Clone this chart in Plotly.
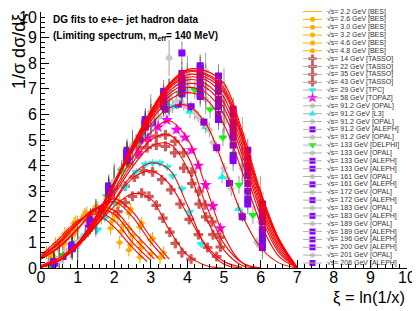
import plotly.graph_objects as go

# ---------------- fit curves ----------------
XI = [0, 0.5, 1, 1.5, 2, 2.5, 3, 3.5, 4, 4.5, 5, 5.5, 6, 6.5, 7]

fit_206 = [0.03, 0.3, 0.95, 2.0, 3.35, 4.8, 6.15, 7.2, 7.75, 7.7, 7.2, 5.35, 3.0, 1.15, 0.03]
fit_201 = [0.03, 0.3, 0.95, 2.0, 3.35, 4.8, 6.1, 7.15, 7.7, 7.6, 7.05, 5.2, 2.9, 1.1, 0.03]
fit_200 = [0.03, 0.3, 0.95, 2.0, 3.35, 4.75, 6.1, 7.1, 7.65, 7.55, 6.95, 5.1, 2.8, 1.05, 0.03]
fit_196 = [0.03, 0.3, 0.95, 2.0, 3.35, 4.75, 6.05, 7.05, 7.55, 7.45, 6.85, 5.0, 2.7, 1.0, 0.02]
fit_189 = [0.03, 0.3, 0.95, 2.0, 3.3, 4.7, 6.0, 7.0, 7.45, 7.35, 6.65, 4.8, 2.55, 0.9, 0.02]
fit_183 = [0.03, 0.3, 0.95, 1.95, 3.3, 4.7, 5.95, 6.9, 7.35, 7.2, 6.45, 4.6, 2.4, 0.8, 0.02]
fit_172 = [0.03, 0.3, 0.95, 1.95, 3.3, 4.65, 5.9, 6.8, 7.2, 7.05, 6.25, 4.4, 2.25, 0.7, 0.02]
fit_161 = [0.03, 0.3, 0.95, 1.95, 3.25, 4.65, 5.85, 6.7, 7.05, 6.85, 6.0, 4.15, 2.05, 0.6, 0.01]
fit_133 = [0.03, 0.3, 0.95, 1.95, 3.25, 4.6, 5.75, 6.55, 6.85, 6.6, 5.6, 3.75, 1.75, 0.45, 0.01]
fit_091 = [0.04, 0.3, 0.95, 1.95, 3.25, 4.55, 5.6, 6.25, 6.35, 5.65, 3.95, 2.05, 0.8, 0.2, 0.0]
fit_058 = [0.05, 0.3, 0.9, 1.85, 3.05, 4.3, 5.3, 5.75, 5.05, 3.2, 1.25, 0.2, 0.0]
fit_043 = [0.06, 0.3, 0.9, 1.8, 2.95, 4.1, 5.0, 5.2, 4.4, 2.5, 0.95, 0.2, 0.0]
fit_035 = [0.06, 0.3, 0.9, 1.75, 2.85, 3.95, 4.75, 4.85, 3.9, 2.0, 0.7, 0.1, 0.0]
fit_029 = [0.07, 0.3, 0.85, 1.65, 2.65, 3.65, 4.1, 3.85, 2.45, 0.85, 0.15, 0.0]
fit_022 = [0.07, 0.3, 0.85, 1.65, 2.6, 3.5, 3.8, 3.3, 2.1, 0.9, 0.25, 0.02]
fit_014 = [0.1, 0.4, 0.95, 1.65, 2.4, 2.9, 2.7, 1.5, 0.5, 0.1, 0.0]

bes_fit_x_22 = [0, 0.5, 1, 1.5, 2, 2.5, 2.9]
bes_fit_22 = [0.5, 1.15, 1.85, 2.1, 1.6, 0.8, 0.25]
bes_fit_x_26 = [0, 0.5, 1, 1.5, 2, 2.5, 3.0]
bes_fit_26 = [0.45, 1.05, 1.8, 2.2, 1.85, 1.0, 0.3]
bes_fit_x_30 = [0, 0.5, 1, 1.5, 2, 2.5, 3.1]
bes_fit_30 = [0.4, 1.0, 1.75, 2.3, 2.1, 1.25, 0.35]
bes_fit_x_32 = [0, 0.5, 1, 1.5, 2, 2.5, 3.2]
bes_fit_32 = [0.4, 0.95, 1.7, 2.35, 2.25, 1.45, 0.4]
bes_fit_x_46 = [0, 0.5, 1, 1.5, 2, 2.5, 3, 3.4]
bes_fit_46 = [0.35, 0.85, 1.55, 2.3, 2.6, 2.0, 1.0, 0.35]
bes_fit_x_48 = [0, 0.5, 1, 1.5, 2, 2.5, 3, 3.5]
bes_fit_48 = [0.35, 0.8, 1.5, 2.3, 2.7, 2.2, 1.2, 0.35]

# ---------------- data points ----------------
bes22_x = [0.15, 0.4, 0.65, 0.9, 1.15, 1.4, 1.65, 1.9, 2.15, 2.4]
bes22_y = [0.6, 0.95, 1.35, 1.75, 2.0, 2.1, 1.95, 1.55, 1.0, 0.7]
bes26_x = [0.2, 0.45, 0.7, 0.95, 1.2, 1.45, 1.7, 1.95, 2.2, 2.45, 2.7]
bes26_y = [0.55, 0.9, 1.3, 1.8, 2.1, 2.2, 2.15, 1.85, 1.45, 0.9, 0.43]
bes30_x = [0.25, 0.5, 0.75, 1.0, 1.25, 1.5, 1.75, 2.0, 2.25, 2.5, 2.75]
bes30_y = [0.5, 1.0, 1.35, 1.8, 2.15, 2.3, 2.25, 2.1, 1.7, 1.25, 0.8]
bes32_x = [0.3, 0.6, 0.9, 1.2, 1.5, 1.8, 2.1, 2.4, 2.7, 3.0]
bes32_y = [0.45, 1.05, 1.55, 2.05, 2.4, 2.35, 2.0, 1.55, 1.0, 0.55]
bes46_x = [0.3, 0.6, 0.9, 1.2, 1.5, 1.8, 2.1, 2.4, 2.7, 3.0, 3.25]
bes46_y = [0.5, 0.95, 1.35, 1.9, 2.3, 2.55, 2.5, 2.15, 1.6, 1.1, 0.4]
bes48_x = [0.35, 0.65, 0.95, 1.25, 1.55, 1.85, 2.15, 2.45, 2.75, 3.05, 3.35]
bes48_y = [0.45, 0.95, 1.45, 1.9, 2.35, 2.7, 2.6, 2.3, 1.75, 1.15, 0.6]

t14_x = [2.1, 2.3, 2.5, 2.75, 2.95, 3.15, 3.33, 3.52, 3.67, 3.85, 4.1]
t14_y = [2.2, 2.55, 2.8, 2.93, 2.8, 2.45, 1.95, 1.4, 0.96, 0.6, 0.35]
t22_x = [2.3, 2.55, 2.8, 3.05, 3.3, 3.55, 3.8, 4.05, 4.3, 4.55, 4.8]
t22_y = [3.2, 3.55, 3.8, 3.75, 3.45, 3.05, 2.5, 1.9, 1.3, 0.8, 0.45]
t35_x = [2.4, 2.65, 2.9, 3.15, 3.4, 3.65, 3.9, 4.12, 4.32, 4.5, 4.7, 4.9]
t35_y = [4.1, 4.45, 4.7, 4.8, 4.75, 4.5, 3.9, 3.3, 2.5, 2.0, 1.3, 0.82]
t43_x = [2.4, 2.65, 2.9, 3.15, 3.4, 3.66, 3.9, 4.12, 4.32, 4.48, 4.67, 4.89]
t43_y = [4.3, 4.7, 5.0, 5.15, 5.2, 4.95, 4.5, 3.75, 3.0, 2.46, 1.8, 1.2]

tpc_x = [1.55, 1.75, 2.0, 2.3, 2.6, 2.85, 3.05, 3.25, 3.45, 3.6, 3.85, 4.06, 4.38]
tpc_y = [1.5, 1.95, 2.55, 3.15, 3.75, 4.05, 4.1, 4.1, 3.95, 3.6, 3.1, 2.2, 0.94]
topaz_x = [2.65, 2.92, 3.2, 3.44, 3.7, 3.93, 4.12, 4.3, 4.5, 4.7, 4.9]
topaz_y = [4.5, 5.1, 5.5, 5.78, 5.4, 5.1, 4.6, 4.0, 3.24, 2.42, 1.55]

opal91a_x = [0.3, 0.7, 1.1, 1.5, 1.9, 2.3, 2.7, 3.1, 3.5, 3.9, 4.3, 4.7, 5.1, 5.5, 5.9]
opal91a_y = [0.15, 0.6, 1.15, 1.95, 3.0, 4.2, 5.1, 5.85, 6.3, 6.35, 5.9, 4.9, 3.5, 2.1, 1.0]
l3_x = [1.2, 1.6, 2.0, 2.4, 2.8, 3.2, 3.6, 4.07, 4.5, 4.95, 5.4]
l3_y = [1.3, 2.1, 3.2, 4.3, 5.2, 5.9, 6.3, 6.1, 5.5, 3.55, 2.3]
opal91b_x = [0.5, 1.0, 1.5, 2.0, 2.5, 3.0, 3.5, 4.0, 4.5, 5.0, 5.5, 6.0]
opal91b_y = [0.35, 0.95, 1.9, 3.25, 4.5, 5.6, 6.2, 6.3, 5.6, 3.9, 2.0, 0.85]
aleph91_x = [0.25, 0.6, 0.95, 1.3, 1.65, 2.0, 2.35, 2.7, 3.05, 3.4, 3.75, 4.1, 4.45, 4.8, 5.15, 5.5]
aleph91_y = [0.1, 0.45, 0.9, 1.55, 2.3, 3.2, 4.2, 5.0, 5.7, 6.2, 6.4, 6.3, 5.7, 4.7, 3.3, 2.0]
opal91c_x = [0.2, 0.8, 1.3, 1.8, 2.2, 2.6, 3.2, 3.7, 4.2, 4.6, 5.2]
opal91c_y = [0.1, 0.7, 1.5, 2.7, 3.9, 4.9, 5.9, 6.5, 6.1, 5.4, 3.1]
delphi_x = [0.25, 0.6, 1.0, 1.4, 1.8, 2.2, 2.6, 3.0, 3.4, 3.8, 4.2, 4.62, 4.97, 5.41, 5.79]
delphi_y = [0.1, 0.5, 1.0, 1.75, 2.8, 3.8, 4.9, 5.7, 6.4, 6.8, 6.95, 6.2, 5.1, 3.25, 2.07]

opal_x = [0.5, 1.0, 1.5, 2.0, 2.5, 3.0, 3.5, 4.0, 4.5, 5.0, 5.5, 6.0]
opal133_y = [0.3, 0.95, 1.95, 3.3, 4.6, 5.8, 6.6, 6.9, 6.6, 5.7, 3.9, 1.8]
opal161_y = [0.3, 1.0, 1.9, 3.2, 4.6, 5.7, 6.7, 7.1, 7.0, 6.0, 4.0, 2.0]
opal172_y = [0.3, 0.9, 2.0, 3.3, 4.7, 5.9, 6.6, 7.3, 7.1, 6.5, 4.5, 2.3]
opal183_y = [0.35, 1.0, 1.9, 3.4, 4.6, 5.8, 6.8, 7.2, 7.4, 6.6, 4.5, 2.4]
opal189_y = [0.3, 0.95, 2.0, 3.3, 4.8, 5.9, 6.9, 7.4, 7.4, 6.8, 4.9, 2.6]
opal201_y = [0.3, 1.0, 2.0, 3.4, 4.7, 6.1, 8.2, 7.6, 7.7, 7.1, 5.2, 2.9]

aleph_x = [0.35, 0.85, 1.35, 1.85, 2.35, 2.85, 3.35, 3.85, 4.35, 4.85, 5.25, 5.65, 6.05]
aleph133a_y = [0.22, 0.8, 1.8, 3.2, 4.5, 5.5, 6.4, 6.8, 6.8, 6.0, 4.4, 2.7, 1.2]
aleph133b_y = [0.2, 0.85, 1.85, 3.0, 4.4, 5.6, 6.3, 6.9, 6.7, 5.8, 4.2, 2.5, 1.0]
aleph161_y = [0.2, 0.85, 1.9, 3.1, 4.6, 5.6, 6.4, 7.0, 7.0, 6.3, 4.8, 3.0, 1.4]
aleph172_y = [0.25, 0.9, 1.8, 3.2, 4.5, 5.7, 6.5, 7.05, 7.2, 6.5, 5.1, 3.3, 1.5]
aleph183_y = [0.2, 0.8, 1.7, 3.0, 4.4, 5.6, 6.6, 7.2, 7.35, 6.6, 5.3, 3.6, 1.8]
aleph189_y = [0.22, 0.85, 1.8, 3.1, 4.35, 5.75, 6.75, 7.3, 7.5, 6.9, 5.5, 3.8, 2.0]
aleph196_y = [0.2, 0.82, 1.75, 3.05, 4.5, 5.8, 6.6, 7.4, 7.6, 7.0, 5.7, 4.0, 2.2]
aleph200_y = [0.18, 0.75, 1.85, 2.9, 4.3, 5.6, 6.7, 7.6, 7.9, 7.2, 6.0, 4.3, 2.5]
aleph206_y = [0.2, 0.8, 1.8, 3.0, 4.4, 5.7, 6.9, 8.4, 7.8, 7.5, 6.2, 4.6, 0.8]

# tick labels
TICK_VALS = [0, 1, 2, 3, 4, 5, 6, 7, 8, 9, 10]
TICK_TEXT = ["0", "1", "2", "3", "4", "5", "6", "7", "8", "9", "10"]

# ---------------- styles ----------------
STYLE = {
    "BES": dict(symbol="circle", color="#ffb000", size=5, err="#f0a000"),
    "TASSO": dict(symbol="cross", color="#cd5c5c", size=8, err="rgba(90,90,90,0.6)"),
    "TPC": dict(symbol="triangle-down", color="#00ffff", size=8, err="rgba(90,90,90,0.6)"),
    "TOPAZ": dict(symbol="star", color="#ff00ff", size=9, err="rgba(90,90,90,0.6)"),
    "OPAL": dict(symbol="circle", color="#c8c8c8", size=6, err="rgba(110,110,110,0.65)"),
    "L3": dict(symbol="triangle-up", color="#00ffff", size=8, err="rgba(90,90,90,0.6)"),
    "ALEPH": dict(symbol="square", color="#8800ff", size=7, err="rgba(70,70,70,0.65)"),
    "DELPHI": dict(symbol="triangle-down", color="#00ff00", size=8, err="rgba(90,90,90,0.6)"),
}

DATASETS = [
    ("2.2", "BES", bes22_x, bes22_y, 0.25),
    ("2.6", "BES", bes26_x, bes26_y, 0.25),
    ("3.0", "BES", bes30_x, bes30_y, 0.25),
    ("3.2", "BES", bes32_x, bes32_y, 0.25),
    ("4.6", "BES", bes46_x, bes46_y, 0.25),
    ("4.8", "BES", bes48_x, bes48_y, 0.25),
    ("14", "TASSO", t14_x, t14_y, 0.2),
    ("22", "TASSO", t22_x, t22_y, 0.2),
    ("35", "TASSO", t35_x, t35_y, 0.2),
    ("43", "TASSO", t43_x, t43_y, 0.2),
    ("29", "TPC", tpc_x, tpc_y, 0.15),
    ("58", "TOPAZ", topaz_x, topaz_y, 0.15),
    ("91.2", "OPAL", opal91a_x, opal91a_y, 0.2),
    ("91.2", "L3", l3_x, l3_y, 0.25),
    ("91.2", "OPAL", opal91b_x, opal91b_y, 0.2),
    ("91.2", "ALEPH", aleph91_x, aleph91_y, 0.2),
    ("91.2", "OPAL", opal91c_x, opal91c_y, 0.3),
    ("133", "DELPHI", delphi_x, delphi_y, 0.35),
    ("133", "OPAL", opal_x, opal133_y, 0.6),
    ("133", "ALEPH", aleph_x, aleph133a_y, 0.4),
    ("133", "ALEPH", aleph_x, aleph133b_y, 0.4),
    ("161", "OPAL", opal_x, opal161_y, 0.7),
    ("161", "ALEPH", aleph_x, aleph161_y, 0.45),
    ("172", "OPAL", opal_x, opal172_y, 0.7),
    ("172", "ALEPH", aleph_x, aleph172_y, 0.45),
    ("183", "OPAL", opal_x, opal183_y, 0.6),
    ("183", "ALEPH", aleph_x, aleph183_y, 0.35),
    ("189", "OPAL", opal_x, opal189_y, 0.5),
    ("189", "ALEPH", aleph_x, aleph189_y, 0.35),
    ("196", "ALEPH", aleph_x, aleph196_y, 0.45),
    ("200", "ALEPH", aleph_x, aleph200_y, 0.45),
    ("201", "OPAL", opal_x, opal201_y, 0.7),
    ("206", "ALEPH", aleph_x, aleph206_y, 0.45),
]

FITS = [
    (bes_fit_x_22, bes_fit_22), (bes_fit_x_26, bes_fit_26), (bes_fit_x_30, bes_fit_30),
    (bes_fit_x_32, bes_fit_32), (bes_fit_x_46, bes_fit_46), (bes_fit_x_48, bes_fit_48),
    (XI, fit_014), (XI, fit_022), (XI, fit_029), (XI, fit_035), (XI, fit_043), (XI, fit_058),
    (XI, fit_091), (XI, fit_133), (XI, fit_161), (XI, fit_172), (XI, fit_183),
    (XI, fit_189), (XI, fit_196), (XI, fit_200), (XI, fit_201), (XI, fit_206),
]

fig = go.Figure()

for en, exp, xs, ys, e in DATASETS:
    st = STYLE[exp]
    fig.add_trace(go.Scatter(
        x=xs, y=ys, mode="markers", showlegend=False,
        marker=dict(symbol=st["symbol"], color=st["color"], size=st["size"],
                    line=dict(width=0)),
        error_y=dict(type="constant", value=e, color=st["err"], thickness=1, width=0),
        error_x=dict(type="constant", value=0.1, color=st["err"], thickness=1, width=0),
    ))

for fx, fy in FITS:
    fig.add_trace(go.Scatter(
        x=fx[:len(fy)], y=fy, mode="lines", showlegend=False,
        line=dict(color="#ff0000", width=1.1, shape="spline", smoothing=1.0),
    ))

# ---------------- geometry (page has an 8 px body margin) ----------------
OFF = 8
W, H = 420 - OFF, 311 - OFF
ML, MR, MT, MB = 33, 13, 4, 43
PW, PH = W - ML - MR, H - MT - MB


def sx_to_xdata(sx):
    return (sx - OFF - ML) / PW * 10.0


def sy_to_ydata(sy):
    return (H - MB - (sy - OFF)) / PH * 10.0


def sx_to_paper(sx):
    return (sx - OFF - ML) / PW


def sy_to_paper(sy):
    return (H - MB - (sy - OFF)) / PH


annotations = []
shapes = []
leg_top, leg_step = 11.5, 7.86
for i, (en, exp, xs, ys, e) in enumerate(DATASETS):
    st = STYLE[exp]
    cy = leg_top + i * leg_step
    shapes.append(dict(type="line", xref="paper", yref="paper",
                       x0=sx_to_paper(303), x1=sx_to_paper(322),
                       y0=sy_to_paper(cy), y1=sy_to_paper(cy),
                       line=dict(color="#b0b0b0" if exp != "BES" else st["color"], width=1)))
    fig.add_trace(go.Scatter(
        x=[sx_to_xdata(312.5)], y=[sy_to_ydata(cy)], mode="markers",
        showlegend=False, cliponaxis=False,
        marker=dict(symbol=st["symbol"], color=st["color"],
                    size=max(st["size"] - 1, 5), line=dict(width=0)),
    ))
    annotations.append(dict(
        xref="paper", yref="paper", x=sx_to_paper(325), y=sy_to_paper(cy),
        xanchor="left", yanchor="middle", showarrow=False,
        text=f"√s= {en} GeV [{exp}]",
        font=dict(family="Liberation Sans, Arial", size=7, color="#333333"),
    ))

annotations.append(dict(
    xref="paper", yref="paper", x=sx_to_paper(51), y=sy_to_paper(19),
    xanchor="left", yanchor="middle", showarrow=False,
    text="<b>DG fits to e+e− jet hadron data</b>",
    font=dict(family="Liberation Sans, Arial", size=10, color="black")))
annotations.append(dict(
    xref="paper", yref="paper", x=sx_to_paper(51), y=sy_to_paper(36),
    xanchor="left", yanchor="middle", showarrow=False,
    text="<b>(Limiting spectrum, m<sub>eff</sub>= 140 MeV)</b>",
    font=dict(family="Liberation Sans, Arial", size=10, color="black")))
annotations.append(dict(
    xref="paper", yref="paper", x=sx_to_paper(18.5), y=sy_to_paper(12),
    xanchor="center", yanchor="top", showarrow=False, textangle=-90,
    text="1/σ dσ/dξ",
    font=dict(family="Liberation Sans, Arial", size=18, color="black")))
annotations.append(dict(
    xref="paper", yref="paper", x=sx_to_paper(407), y=sy_to_paper(297),
    xanchor="right", yanchor="middle", showarrow=False,
    text="ξ = ln(1/x)",
    font=dict(family="Liberation Sans, Arial", size=16.5, color="black")))
# top y tick label sits in the body-margin band, so place it just inside the page
annotations.append(dict(
    xref="paper", yref="paper", x=sx_to_paper(39), y=sy_to_paper(17.5),
    xanchor="right", yanchor="middle", showarrow=False,
    text=TICK_TEXT[-1],
    font=dict(family="Liberation Sans, Arial", size=16, color="black")))

axis_common = dict(
    range=[0, 10], tickmode="array", ticks="inside", ticklen=8, tickcolor="black",
    showline=True, linecolor="black", linewidth=1, mirror=False,
    showgrid=False, zeroline=False,
    tickfont=dict(family="Liberation Sans, Arial", size=16, color="black"),
    minor=dict(dtick=0.2, ticks="inside", ticklen=4, tickcolor="black", showgrid=False),
)

fig.update_layout(
    width=W, height=H,
    margin=dict(l=ML, r=MR, t=MT, b=MB),
    paper_bgcolor="white", plot_bgcolor="white",
    xaxis=dict(axis_common, tickvals=TICK_VALS, ticktext=TICK_TEXT, ticklabelstandoff=-5),
    yaxis=dict(axis_common, tickvals=TICK_VALS, ticktext=TICK_TEXT[:-1] + [""],
               ticklabelstandoff=0),
    annotations=annotations, shapes=shapes,
    showlegend=False,
)

fig.write_html("out.html")
